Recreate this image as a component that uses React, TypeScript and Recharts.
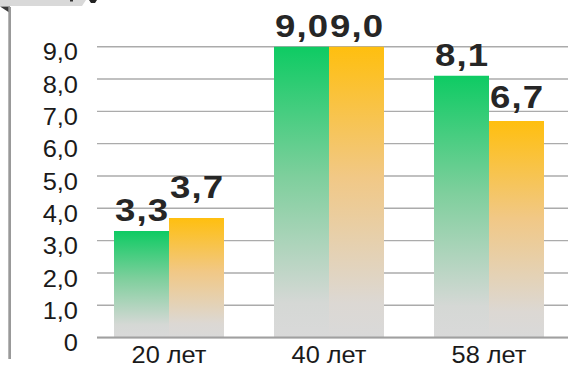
import React from 'react';
import { BarChart, Bar, XAxis, YAxis, CartesianGrid, LabelList } from 'recharts';

// Age groups along the category axis
const categories = ['20 лет', '40 лет', '58 лет'];
// Two compared series per age group
const seriesA = [3.3, 9.0, 8.1];
const seriesB = [3.7, 9.0, 6.7];
// Value axis ticks
const yTicks = [0, 1, 2, 3, 4, 5, 6, 7, 8, 9];

const data = categories.map((name, i) => ({ name, a: seriesA[i], b: seriesB[i] }));

const fmt = (v: number) => (v === 0 ? '0' : v.toFixed(1).replace('.', ','));

const FONT = '"Liberation Sans", Arial, sans-serif';

const YTick = (props: any) => {
  const { x, y, payload } = props;
  return (
    <text
      transform={`translate(${x},${y}) scale(1.06,1)`}
      dy={13.6}
      textAnchor="end"
      fontFamily={FONT}
      fontSize={24}
      fill="#1a1a1a"
    >
      {fmt(payload.value)}
    </text>
  );
};

const XTick = (props: any) => {
  const { x, y, payload } = props;
  return (
    <text
      transform={`translate(${x},${y}) scale(1.08,1)`}
      dy={25}
      textAnchor="middle"
      fontFamily={FONT}
      fontSize={23.5}
      fill="#1a1a1a"
    >
      {payload.value}
    </text>
  );
};

// extra lift for labels that sit next to a taller neighbour label
const lift: Record<string, number> = { 'b-20 лет': 10, 'b-58 лет': 3 };

const makeLabel = (key: string) => (props: any) => {
  const { x, y, width, value, index } = props;
  const extra = lift[`${key}-${categories[index]}`] || 0;
  return (
    <text
      transform={`translate(${x + width / 2},${y - 10 - extra}) scale(1.18,1)`}
      dx={0.5}
      textAnchor="middle"
      fontFamily={FONT}
      fontSize={31}
      fontWeight="bold"
      letterSpacing={1}
      fill="#262626"
    >
      {fmt(value)}
    </text>
  );
};

export default function App() {
  return (
    <div style={{ position: 'absolute', left: 0, top: 0, width: 568, height: 369, background: '#fff' }}>
      <BarChart
        width={568}
        height={369}
        data={data}
        margin={{ top: 46.7, right: 0, bottom: 0, left: 0 }}
        barGap={0}
      >
        <defs>
          <linearGradient id="gradGreen" x1="0" y1="0" x2="0" y2="1">
            <stop offset="0" stopColor="#0ecb63" />
            <stop offset="0.45" stopColor="#7fcf9d" />
            <stop offset="0.88" stopColor="#d5d8d5" />
            <stop offset="1" stopColor="#d9d9d9" />
          </linearGradient>
          <linearGradient id="gradOrange" x1="0" y1="0" x2="0" y2="1">
            <stop offset="0" stopColor="#ffbf0f" />
            <stop offset="0.45" stopColor="#f1c886" />
            <stop offset="0.88" stopColor="#dcd8d3" />
            <stop offset="1" stopColor="#d9d9d9" />
          </linearGradient>
        </defs>
        <CartesianGrid vertical={false} stroke="#ababab" strokeWidth={1.4} />
        <XAxis
          dataKey="name"
          height={31.4}
          axisLine={{ stroke: '#a0a0a0', strokeWidth: 2 }}
          tickLine={false}
          tickSize={0}
          tickMargin={0}
          tick={<XTick />}
          padding={{ left: -8, right: -1 }}
          interval={0}
        />
        <YAxis
          width={97}
          domain={[0, 9]}
          ticks={yTicks}
          axisLine={false}
          tickLine={false}
          tickSize={0}
          tickMargin={19}
          tick={<YTick />}
          interval={0}
        />
        <Bar dataKey="a" fill="url(#gradGreen)" barSize={55} isAnimationActive={false}>
          <LabelList dataKey="a" content={makeLabel('a')} />
        </Bar>
        <Bar dataKey="b" fill="url(#gradOrange)" barSize={55} isAnimationActive={false}>
          <LabelList dataKey="b" content={makeLabel('b')} />
        </Bar>
      </BarChart>
      <svg
        width={568}
        height={369}
        style={{ position: 'absolute', left: 0, top: 0, pointerEvents: 'none' }}
      >
        <polygon points="0,0 86,0 82,6 0,6" fill="#d9d9d9" />
        <rect x={70} y={0} width={3} height={1.5} fill="#333" />
        <path d="M89,0 L97,0 L95,3 L91,3 Z" fill="#222" />
        <polygon points="0,6.5 10,6.5 10,13" fill="#3a3a3a" />
        <rect x={8.3} y={7} width={2.7} height={352} fill="#999" />
      </svg>
    </div>
  );
}
